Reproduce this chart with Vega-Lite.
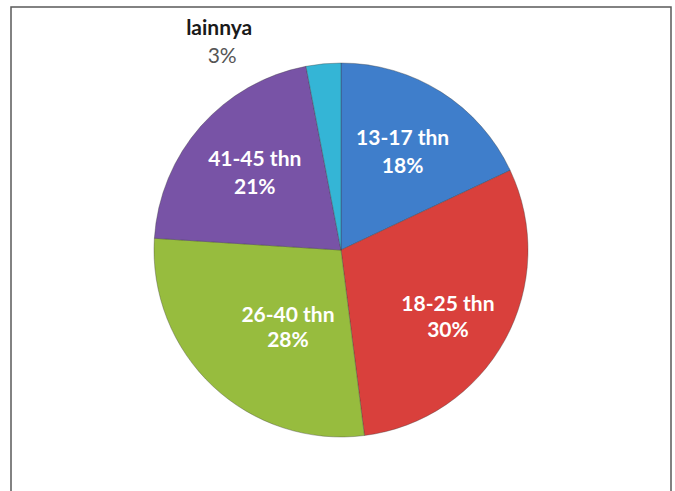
{
  "$schema": "https://vega.github.io/schema/vega-lite/v6.json",
  "autosize": "none",
  "width": 660,
  "height": 486,
  "padding": {"left": 11, "top": 7, "right": 4, "bottom": 0},
  "background": "white",
  "data": {
    "values": [
      {"group": "13-17 thn", "value": 18, "pct": "18%", "ord": 1},
      {"group": "18-25 thn", "value": 30, "pct": "30%", "ord": 2},
      {"group": "26-40 thn", "value": 28, "pct": "28%", "ord": 3},
      {"group": "41-45 thn", "value": 21, "pct": "21%", "ord": 4},
      {"group": "lainnya", "value": 3, "pct": "3%", "ord": 5}
    ]
  },
  "layer": [
    {
      "data": {"values": [{"frame": 1}]},
      "mark": {"type": "rect", "fill": null, "stroke": "#5a5a5a", "strokeWidth": 1.5},
      "encoding": {}
    },
    {
      "mark": {"type": "arc", "outerRadius": 187, "stroke": "#3a3a3a", "strokeWidth": 0.6, "strokeOpacity": 0.6},
      "encoding": {
        "theta": {"field": "value", "type": "quantitative", "stack": true},
        "order": {"field": "ord", "type": "quantitative"},
        "color": {
          "field": "group",
          "type": "nominal",
          "legend": null,
          "scale": {
            "domain": ["13-17 thn", "18-25 thn", "26-40 thn", "41-45 thn", "lainnya"],
            "range": ["#3f7ecb", "#d9403c", "#97bc3e", "#7853a6", "#34b5d6"]
          }
        }
      }
    },
    {
      "mark": {"type": "text", "radius": 115, "dy": -14, "font": "Lato", "fontSize": 21, "fontWeight": "bold", "fill": "white"},
      "encoding": {
        "theta": {"field": "value", "type": "quantitative", "stack": true},
        "order": {"field": "ord", "type": "quantitative"},
        "text": {"condition": {"test": "datum.group !== '13-17 thn' && datum.group !== '41-45 thn'", "value": ""}, "field": "group"}
      }
    },
    {
      "mark": {"type": "text", "radius": 115, "dy": 14, "font": "Lato", "fontSize": 21, "fontWeight": "bold", "fill": "white"},
      "encoding": {
        "theta": {"field": "value", "type": "quantitative", "stack": true},
        "order": {"field": "ord", "type": "quantitative"},
        "text": {"condition": {"test": "datum.group !== '13-17 thn' && datum.group !== '41-45 thn'", "value": ""}, "field": "pct"}
      }
    },
    {
      "mark": {"type": "text", "radius": 122, "dy": -4, "font": "Lato", "fontSize": 21, "fontWeight": "bold", "fill": "white"},
      "encoding": {
        "theta": {"field": "value", "type": "quantitative", "stack": true},
        "order": {"field": "ord", "type": "quantitative"},
        "text": {"condition": {"test": "datum.group !== '18-25 thn'", "value": ""}, "field": "group"}
      }
    },
    {
      "mark": {"type": "text", "radius": 122, "dy": 22, "font": "Lato", "fontSize": 21, "fontWeight": "bold", "fill": "white"},
      "encoding": {
        "theta": {"field": "value", "type": "quantitative", "stack": true},
        "order": {"field": "ord", "type": "quantitative"},
        "text": {"condition": {"test": "datum.group !== '18-25 thn'", "value": ""}, "field": "pct"}
      }
    },
    {
      "mark": {"type": "text", "radius": 95, "dx": 12, "dy": -3, "font": "Lato", "fontSize": 21, "fontWeight": "bold", "fill": "white"},
      "encoding": {
        "theta": {"field": "value", "type": "quantitative", "stack": true},
        "order": {"field": "ord", "type": "quantitative"},
        "text": {"condition": {"test": "datum.group !== '26-40 thn'", "value": ""}, "field": "group"}
      }
    },
    {
      "mark": {"type": "text", "radius": 95, "dx": 12, "dy": 22, "font": "Lato", "fontSize": 21, "fontWeight": "bold", "fill": "white"},
      "encoding": {
        "theta": {"field": "value", "type": "quantitative", "stack": true},
        "order": {"field": "ord", "type": "quantitative"},
        "text": {"condition": {"test": "datum.group !== '26-40 thn'", "value": ""}, "field": "pct"}
      }
    },
    {
      "mark": {"type": "text", "radius": 200, "dx": -103, "dy": -22, "font": "Lato", "fontSize": 21, "fontWeight": "bold", "fill": "#1a1a1a"},
      "encoding": {
        "theta": {"field": "value", "type": "quantitative", "stack": true},
        "order": {"field": "ord", "type": "quantitative"},
        "text": {"condition": {"test": "datum.group !== 'lainnya'", "value": ""}, "field": "group"}
      }
    },
    {
      "mark": {"type": "text", "radius": 200, "dx": -100, "dy": 6, "font": "Lato", "fontSize": 21, "fill": "#555555"},
      "encoding": {
        "theta": {"field": "value", "type": "quantitative", "stack": true},
        "order": {"field": "ord", "type": "quantitative"},
        "text": {"condition": {"test": "datum.group !== 'lainnya'", "value": ""}, "field": "pct"}
      }
    }
  ]
}
